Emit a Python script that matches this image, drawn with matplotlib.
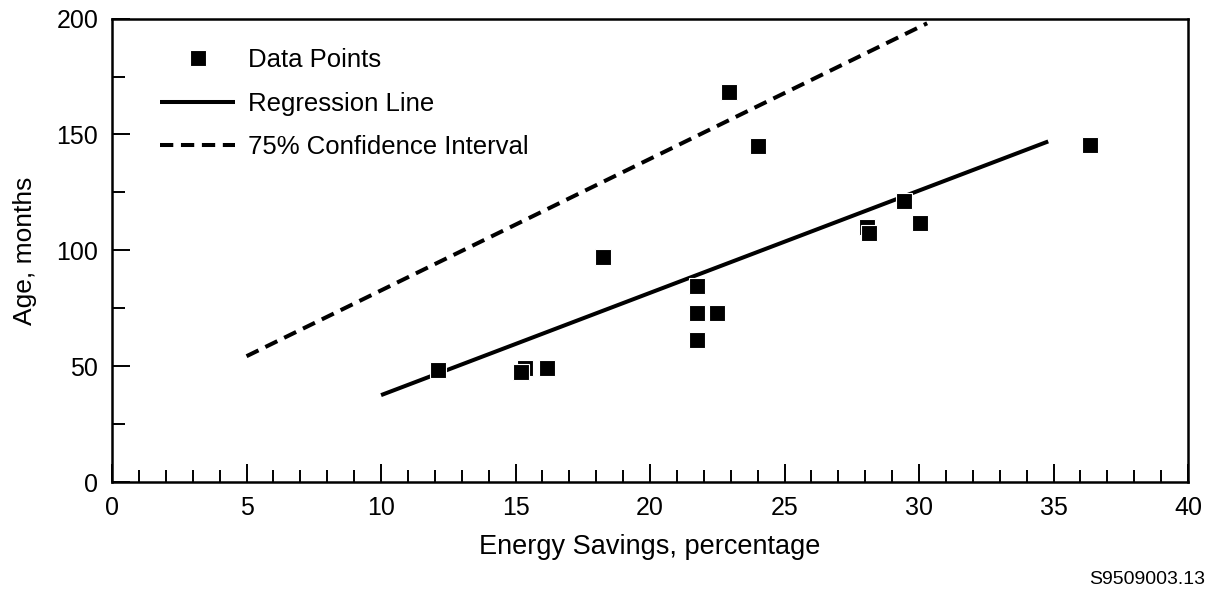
import matplotlib.pyplot as plt
from matplotlib.ticker import MultipleLocator

plt.rcParams['font.family'] = ['Liberation Sans', 'DejaVu Sans']

# data points
savings = [12.1, 15.35, 15.2, 16.15, 18.25, 21.75, 21.75, 22.5, 21.75,
           22.95, 24.0, 28.05, 28.15, 29.45, 30.05, 36.35]
age = [48.5, 49.0, 47.5, 49.3, 97.3, 84.8, 73.0, 73.0, 61.5,
       168.5, 145.0, 110.0, 107.3, 121.5, 111.6, 145.5]

# line end points
reg_x = [10.0, 34.8]
reg_y = [37.5, 147.0]
ci_x = [5.0, 30.3]
ci_y = [54.3, 198.0]

fig = plt.figure(figsize=(12.1, 5.92), dpi=100)
ax = fig.add_axes([0.0926, 0.1858, 0.8893, 0.7827])

ax.plot(savings, age, linestyle='none', marker='s', markersize=11,
        markerfacecolor='black', markeredgecolor='white', markeredgewidth=0.8,
        label='Data Points', zorder=3)
ax.plot(reg_x, reg_y, color='black', linewidth=2.9, solid_capstyle='butt',
        label='Regression Line')
ax.plot(ci_x, ci_y, color='black', linewidth=2.9, dashes=(3.3, 1.9),
        label='75% Confidence Interval')

ax.set_xlim(0, 40)
ax.set_ylim(0, 200)
ax.xaxis.set_major_locator(MultipleLocator(5))
ax.xaxis.set_minor_locator(MultipleLocator(1))
ax.yaxis.set_major_locator(MultipleLocator(50))
ax.yaxis.set_minor_locator(MultipleLocator(25))
ax.tick_params(which='both', direction='in', width=1.4, labelsize=18,
               colors='black')
ax.tick_params(axis='x', which='both', pad=10)
ax.tick_params(axis='y', which='both', pad=10)
ax.tick_params(which='major', length=13)
ax.tick_params(which='minor', length=9)

for s in ax.spines.values():
    s.set_linewidth(1.8)

ax.set_xlabel('Energy Savings, percentage', fontsize=19.5, labelpad=10)
ax.set_ylabel('Age, months', fontsize=19, labelpad=14)

ax.legend(loc='upper left', bbox_to_anchor=(0.0353, 0.958), borderaxespad=0,
          frameon=False, fontsize=18.5, handlelength=2.9, handletextpad=0.52,
          labelspacing=0.75, numpoints=1)

fig.text(0.996, 0.006, 'S9509003.13', ha='right', va='bottom', fontsize=14)

fig.savefig('out.png', dpi=100)
